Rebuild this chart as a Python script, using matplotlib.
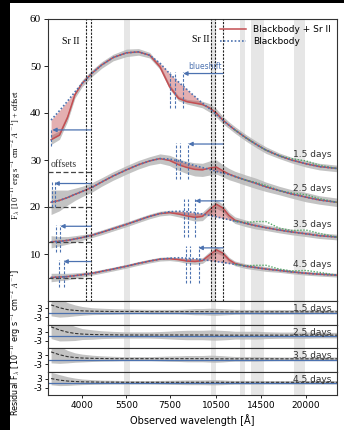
import matplotlib
matplotlib.use('Agg')
import matplotlib.pyplot as plt
import numpy as np
from matplotlib.lines import Line2D
from matplotlib.patches import Rectangle

plt.rcParams['mathtext.fontset'] = 'cm'

# wavelength grid (Angstrom) the curves were read on
wl = [3200, 3400, 3600, 3800, 4000, 4300, 4600, 5000, 5500, 6000, 6500, 7000, 7500, 8000, 8500,
      9000, 9500, 10000, 10500, 11000, 11500, 12000, 13000, 14000, 15000, 16500, 18000, 20000,
      22000, 25000]

epochs = ['1.5 days', '2.5 days', '3.5 days', '4.5 days']
offsets = [27.5, 20.0, 12.5, 5.0]

# blackbody fits (+ offset)
bb_15 = [38.5, 40.5, 42.5, 44.5, 46.3, 48.5, 50.2, 51.8, 52.8, 53.0, 52.3, 50.6, 48.4, 46.6, 45.0,
         43.5, 42.1, 40.9, 39.7, 38.5, 37.4, 36.4, 34.7, 33.3, 32.1, 30.9, 30.0, 29.2, 28.6, 28.2]
bb_25 = [21.0, 21.4, 22.0, 22.7, 23.3, 24.2, 25.3, 26.6, 27.9, 29.0, 29.8, 30.3, 30.2, 29.8, 29.3,
         28.8, 28.4, 28.0, 27.6, 27.2, 26.9, 26.5, 25.7, 25.0, 24.3, 23.5, 22.8, 22.1, 21.5, 21.0]
bb_35 = [12.6, 12.7, 12.9, 13.2, 13.5, 14.0, 14.6, 15.4, 16.3, 17.2, 18.0, 18.6, 19.0, 19.1, 19.0,
         18.8, 18.5, 18.2, 17.9, 17.6, 17.3, 17.0, 16.5, 16.0, 15.6, 15.1, 14.7, 14.3, 13.9, 13.6]
bb_45 = [5.0, 5.1, 5.2, 5.4, 5.6, 5.9, 6.3, 6.8, 7.4, 8.0, 8.5, 8.9, 9.1, 9.2, 9.1,
         9.0, 8.8, 8.6, 8.4, 8.2, 8.0, 7.8, 7.4, 7.1, 6.8, 6.5, 6.2, 5.9, 5.7, 5.5]

# Sr II contribution (model - blackbody)
sr_15 = [-4.2, -5.2, -3.5, -0.6, 0, 0, 0, 0, 0, 0, 0, -0.8, -2.8, -3.5, -2.6,
         -1.4, -0.3, 0.2, 0.3, 0, 0, 0, 0, 0, 0, 0, 0, 0, 0, 0]
sr_25 = [0, 0, 0, 0, 0, 0, 0, 0, 0, 0, 0, 0, -0.3, -0.8, -0.9,
         -0.8, -0.5, 0.3, 0.9, 0.5, 0.1, 0, 0, 0, 0, 0, 0, 0, 0, 0]
sr_35 = [0, 0, 0, 0, 0, 0, 0, 0, 0, 0, 0, 0, -0.2, -0.6, -0.9,
         -1.0, -0.5, 1.2, 2.7, 2.2, 0.9, 0.2, 0, 0, 0, 0, 0, 0, 0, 0]
sr_45 = [0, 0, 0, 0, 0, 0, 0, 0, 0, 0, 0, 0, -0.1, -0.4, -0.6,
         -0.6, -0.2, 1.2, 2.5, 2.0, 0.8, 0.2, 0, 0, 0, 0, 0, 0, 0, 0]

# extra NIR emission (green dotted), from 12000 A on
g_15 = [0, 0, 0, 0, 0, 0.3, 0.6, 0.3, 0]
g_25 = [0, 0, 0.2, 0.3, 0, 0.2, 0.5, 0.3, 0]
g_35 = [0, 0.2, 0.9, 1.3, 0.4, 0.3, 0.8, 0.5, 0]
g_45 = [0, 0.1, 0.5, 0.8, 0.3, 0.2, 0.6, 0.4, 0]

# scatter of the observed spectra around the model
n_15 = [1.0, 0.9, 0.8, 0.7, 0.7, 0.7, 0.7, 0.7, 0.8, 0.7, 0.6, 0.5, 0.5, 0.5, 0.5,
        0.6, 0.7, 0.9, 0.9, 0.8, 0.7, 0.7, 0.7, 0.7, 0.7, 0.6, 0.6, 0.7, 0.7, 0.7]
n_25 = [2.6, 2.2, 1.6, 1.3, 1.1, 1.0, 0.9, 0.9, 0.9, 0.9, 0.9, 1.0, 1.1, 1.2, 1.3,
        1.4, 1.4, 1.5, 1.5, 1.3, 1.2, 1.1, 1.1, 1.1, 1.0, 0.9, 0.9, 1.0, 0.9, 0.9]
n_35 = [1.3, 1.0, 0.8, 0.7, 0.6, 0.5, 0.5, 0.5, 0.5, 0.5, 0.5, 0.5, 0.5, 0.6, 0.7,
        0.8, 0.9, 0.9, 0.9, 0.8, 0.7, 0.7, 0.7, 0.7, 0.6, 0.6, 0.6, 0.6, 0.6, 0.6]
n_45 = [0.9, 0.8, 0.7, 0.6, 0.5, 0.4, 0.4, 0.4, 0.4, 0.4, 0.4, 0.4, 0.4, 0.4, 0.5,
        0.6, 0.6, 0.7, 0.7, 0.6, 0.5, 0.5, 0.5, 0.5, 0.5, 0.4, 0.4, 0.4, 0.4, 0.4]

# residuals: smoothed trend and scatter
rt_15 = [5.0, 3.2, 2.0, 1.5, 1.2, 1.0, 0.9, 0.8, 0.8, 0.8, 0.7, 0.7, 0.7, 0.7, 0.7,
         0.7, 0.7, 0.7, 0.6, 0.6, 0.6, 0.6, 0.6, 0.6, 0.6, 0.6, 0.6, 0.6, 0.6, 0.6]
rt_25 = [6.0, 4.0, 2.6, 1.8, 1.4, 1.1, 1.0, 0.9, 0.8, 0.8, 0.8, 0.8, 0.8, 0.8, 0.8,
         0.8, 0.8, 0.8, 0.7, 0.7, 0.7, 0.7, 0.7, 0.7, 0.7, 0.7, 0.7, 0.7, 0.7, 0.7]
rt_35 = [5.0, 3.2, 2.0, 1.4, 1.1, 0.9, 0.8, 0.7, 0.7, 0.7, 0.7, 0.7, 0.7, 0.7, 0.7,
         0.7, 0.7, 0.7, 0.6, 0.6, 0.6, 0.6, 0.6, 0.6, 0.6, 0.6, 0.6, 0.6, 0.6, 0.6]
rt_45 = [3.0, 2.0, 1.4, 1.1, 0.9, 0.8, 0.7, 0.7, 0.6, 0.6, 0.6, 0.6, 0.6, 0.6, 0.6,
         0.6, 0.6, 0.6, 0.6, 0.6, 0.6, 0.6, 0.6, 0.6, 0.6, 0.6, 0.6, 0.6, 0.6, 0.6]
rn_15 = [7.0, 6.0, 4.5, 3.5, 2.8, 2.2, 2.0, 1.8, 1.6, 1.5, 1.5, 1.5, 1.5, 1.5, 1.7,
         2.0, 2.0, 2.2, 2.2, 2.0, 1.8, 1.6, 1.5, 1.5, 1.5, 1.5, 1.4, 1.4, 1.3, 1.3]
rn_25 = [7.5, 7.0, 5.5, 4.5, 3.5, 3.0, 2.5, 2.2, 2.0, 2.0, 2.0, 2.2, 2.5, 2.8, 3.0,
         3.0, 3.0, 3.2, 3.2, 3.0, 2.8, 2.5, 2.5, 2.5, 2.2, 2.0, 2.0, 2.0, 1.8, 1.8]
rn_35 = [7.0, 5.5, 4.0, 3.0, 2.5, 2.0, 1.7, 1.5, 1.3, 1.3, 1.3, 1.5, 1.7, 1.8, 2.0,
         2.0, 2.0, 2.2, 2.2, 2.0, 1.7, 1.5, 1.5, 1.5, 1.3, 1.2, 1.2, 1.2, 1.2, 1.2]
rn_45 = [4.0, 3.5, 2.8, 2.2, 1.8, 1.5, 1.3, 1.2, 1.1, 1.1, 1.1, 1.2, 1.3, 1.4, 1.5,
         1.5, 1.5, 1.6, 1.6, 1.5, 1.3, 1.2, 1.2, 1.2, 1.1, 1.1, 1.1, 1.1, 1.1, 1.1]

# Sr II line positions (observed frame) and their blueshifted positions
sr_opt = [4117, 4256]
sr_nir = [10134, 10428, 11021]
bs_opt = [[3100, 3205], [3220, 3280], [3320, 3420], [3390, 3500]]
bs_nir = [[7535, 7820, 8280], [7870, 8090, 8590], [8295, 8560, 9020], [8435, 8700, 9240]]
bs_opt_span = [(33.0, 36.7), (20.0, 25.3), (10.4, 16.2), (3.0, 8.7)]
bs_nir_span = [(41.1, 48.7), (26.0, 33.7), (13.6, 21.6), (3.8, 11.6)]

# masked regions
bands = [(5400, 5650), (10100, 10500), (12450, 12900), (13500, 14800), (18400, 19900)]

xticks = [4000, 5500, 7500, 10500, 14500, 20000]

bbs = [bb_15, bb_25, bb_35, bb_45]
srs = [sr_15, sr_25, sr_35, sr_45]
gs = [g_15, g_25, g_35, g_45]
ns = [n_15, n_25, n_35, n_45]
rts = [rt_15, rt_25, rt_35, rt_45]
rns = [rn_15, rn_25, rn_35, rn_45]

red = '#c44e52'
blue = '#4c72b0'
green = '#55a868'
grey = '#b4b4b4'
serif = 'Liberation Serif'
xlo, xhi = 3130, 25000

fig = plt.figure(figsize=(3.44, 4.30), dpi=100)
fig.patch.set_facecolor('black')
fig.patches.append(Rectangle((10 / 344, 0), 1, 427 / 430, transform=fig.transFigure,
                             facecolor='white', edgecolor='none', zorder=-10))

left, width = 48 / 344, 289 / 344
ax = fig.add_axes([left, 1 - 301 / 430, width, 282 / 430])
wl_a = np.array(wl)

for lo, hi in bands:
    ax.axvspan(lo, hi, color='#e6e6e6', lw=0, zorder=0)

for i in range(4):
    bb = np.array(bbs[i])
    model = bb + np.array(srs[i])
    noise = np.array(ns[i])
    ax.fill_between(wl_a, model - noise, model + noise, color=grey, lw=0, alpha=0.8, zorder=1)
    ax.fill_between(wl_a, bb, model, color=red, alpha=0.45, lw=0, zorder=2)
    ax.plot(wl_a, model, color=red, lw=1.1, zorder=3)
    ax.plot(wl_a, bb, color=blue, lw=1.2, ls=(0, (1, 1.2)), zorder=4)
    nir = wl_a >= 12000
    ax.plot(wl_a[nir], bb[nir] + np.array(gs[i]), color=green, lw=1.0, ls=(0, (1, 1.2)), zorder=3)
    # epoch label
    ax.text(24000, bb[wl.index(20000)] + 1.9, epochs[i], ha='right', va='center', fontsize=6.5,
            color='#333333', zorder=6)
    # offset marker
    ax.hlines(offsets[i], xlo, 4260, colors='#444444', linestyles=(0, (4, 2)), lw=0.9, zorder=5)
    # blueshift markers
    lo, hi = bs_nir_span[i]
    ax.vlines(bs_nir[i], lo, hi, colors=blue, linestyles=(0, (2.5, 1.5)), lw=0.8, zorder=5)
    ax.annotate('', xy=(bs_nir[i][-1], hi - 0.3), xytext=(sr_nir[-1], hi - 0.3),
                arrowprops=dict(arrowstyle='-|>', color=blue, lw=0.9, mutation_scale=6,
                                shrinkA=0, shrinkB=0), zorder=6)
    lo, hi = bs_opt_span[i]
    ax.vlines(bs_opt[i], lo, hi, colors=blue, linestyles=(0, (2.5, 1.5)), lw=0.8, zorder=5)
    ax.annotate('', xy=(max(bs_opt[i][-1], 3230), hi - 0.3), xytext=(sr_opt[-1], hi - 0.3),
                arrowprops=dict(arrowstyle='-|>', color=blue, lw=0.9, mutation_scale=6,
                                shrinkA=0, shrinkB=0), zorder=6)

for s in sr_opt + sr_nir:
    ax.axvline(s, color='#222222', lw=0.8, ls=(0, (2, 1.2)), zorder=5)

ax.text(3690, 55.3, 'Sr II', fontsize=7, family=serif, ha='center', va='center')
ax.text(10000, 55.6, 'Sr II', fontsize=7, family=serif, ha='right', va='center')
ax.text(3180, 29.0, 'offsets', fontsize=7, family=serif, ha='left', va='center', color='#333333')
ax.text(9700, 49.9, 'blueshift', fontsize=5.5, color=blue, ha='center', va='center')

ax.set_xscale('log')
ax.set_xlim(xlo, xhi)
ax.set_ylim(0, 60)
ax.set_yticks([10, 20, 30, 40, 50, 60])
ax.set_yticklabels(['10', '20', '30', '40', '50', '60'], family=serif, fontsize=8)
ax.set_xticks(xticks)
ax.set_xticks([], minor=True)
ax.tick_params(axis='x', labelbottom=False, length=0)
ax.tick_params(axis='y', length=3, width=0.6, pad=2)
for sp in ax.spines.values():
    sp.set_linewidth(0.8)
    sp.set_color('#333333')

handles = [Line2D([], [], color=red, lw=1.1),
           Line2D([], [], color=blue, lw=1.2, ls=(0, (1, 1.2)))]
ax.legend(handles, ['Blackbody + Sr II', 'Blackbody'], loc='upper right', frameon=False,
          fontsize=6.5, handlelength=2.8, borderaxespad=0.3, labelspacing=0.3)

# residual panels
h = 23.5 / 430
for i in range(4):
    bottom = 1 - (301 + 23.5 * (i + 1)) / 430
    r = fig.add_axes([left, bottom, width, h], sharex=ax)
    for lo, hi in bands:
        r.axvspan(lo, hi, color='#e6e6e6', lw=0, zorder=0)
    trend = np.array(rts[i])
    rn = np.array(rns[i])
    r.fill_between(wl_a, trend - rn, trend + rn, color=grey, lw=0, alpha=0.8, zorder=1)
    r.axhline(0, color=blue, lw=0.9, zorder=2)
    r.plot(wl_a, trend, color='#333333', lw=0.8, ls=(0, (3, 1.5)), zorder=3)
    r.text(24000, 2.5, epochs[i], ha='right', va='center', fontsize=6.5, color='#333333', zorder=4)
    r.set_ylim(-7.5, 7.5)
    r.set_yticks([3, -3])
    r.set_yticklabels(['3', '-3'], fontsize=6.5)
    r.tick_params(axis='y', length=2.5, width=0.6, pad=1.5)
    r.tick_params(axis='x', length=2.5, width=0.6, labelsize=6.5, pad=2)
    for sp in r.spines.values():
        sp.set_linewidth(0.8)
        sp.set_color('#333333')
    if i < 3:
        r.tick_params(axis='x', labelbottom=False, length=0)
    else:
        r.set_xticks(xticks)
        r.set_xticks([], minor=True)
        r.set_xticklabels([str(t) for t in xticks])
        r.set_xlabel('Observed wavelength [Å]', fontsize=7, labelpad=3)
    r.set_xlim(xlo, xhi)

fig.text(0.042, 0.64, r'F$_\lambda$ [10$^{-17}$ erg s$^{-1}$ cm$^{-2}$ $\AA^{-1}$] + offset',
         rotation=90, ha='center', va='center', fontsize=6, family=serif)
fig.text(0.042, 0.203, r'Residual F$_\lambda$ [10$^{-17}$ erg s$^{-1}$ cm$^{-2}$ $\AA^{-1}$]',
         rotation=90, ha='center', va='center', fontsize=5.8)

fig.savefig('out.png', dpi=100, facecolor=fig.get_facecolor())
